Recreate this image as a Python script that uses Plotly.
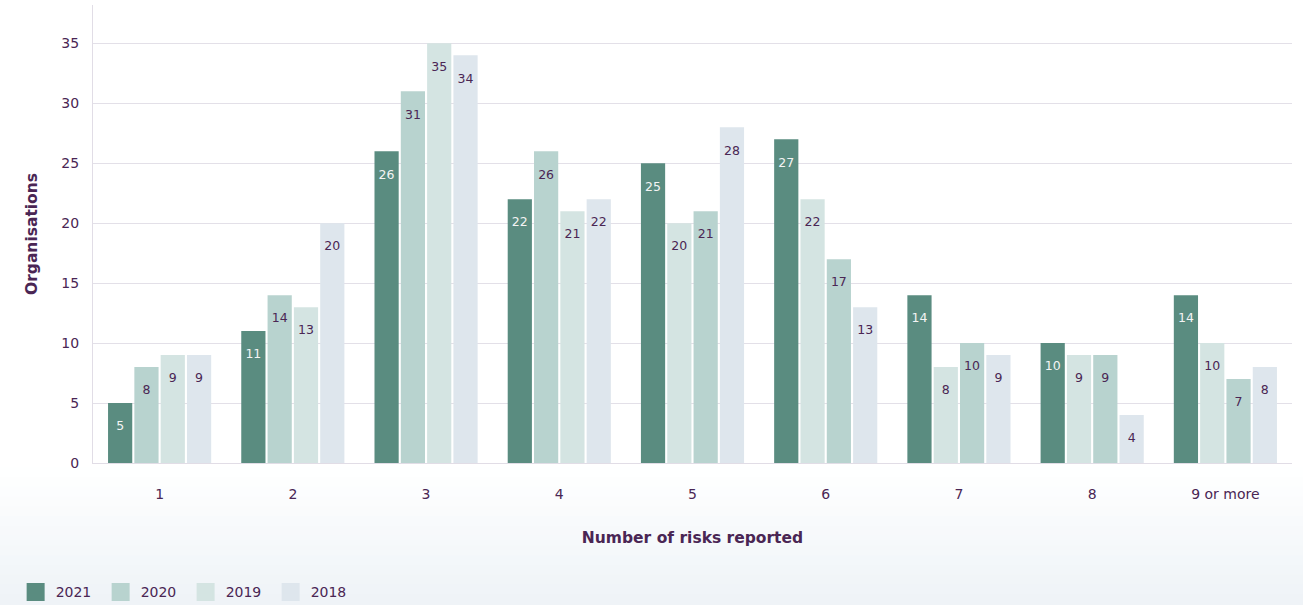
import plotly.graph_objects as go

# Organisations by number of risks reported, per survey year
categories = ["1", "2", "3", "4", "5", "6", "7", "8", "9 or more"]
years = ["2021", "2020", "2019", "2018"]
v2021 = [5, 11, 26, 22, 25, 27, 14, 10, 14]
v2020 = [8, 14, 31, 26, 20, 22, 8, 9, 10]
v2019 = [9, 13, 35, 21, 21, 17, 10, 9, 7]
v2018 = [9, 20, 34, 22, 28, 13, 9, 4, 8]

C2021 = "#5a8c80"
C2020 = "#b8d3cf"
C2019 = "#d4e4e2"
C2018 = "#dee6ed"
PURPLE = "#4a2654"
FONT = "Tahoma, Verdana, DejaVu Sans, sans-serif"

# the two middle series swap shades from category "5" onward
col_second = [C2020] * 4 + [C2019] * 5
col_third = [C2019] * 4 + [C2020] * 5

series = [
    ("2021", v2021, C2021, "#f4f4f4"),
    ("2020", v2020, col_second, PURPLE),
    ("2019", v2019, col_third, PURPLE),
    ("2018", v2018, C2018, PURPLE),
]
legend_colors = [C2021, C2020, C2019, C2018]

# small blank line above each value keeps labels a little below the bar top
SPACER = "<span style='font-size:9px'>\u00a0</span><br>"

fig = go.Figure()
for name, vals, color, tcolor in series:
    fig.add_trace(go.Bar(
        name=name,
        x=categories,
        y=vals,
        marker=dict(color=color, line=dict(width=0)),
        text=[SPACER + str(v) for v in vals],
        texttemplate="%{text}",
        textposition="inside",
        insidetextanchor="end",
        textangle=0,
        constraintext="none",
        insidetextfont=dict(family=FONT, size=12.5, color=tcolor),
        hoverinfo="x+y+name",
        showlegend=False,
        legendgroup=name,
    ))

# legend keys: larger square swatches
for name, color in zip(years, legend_colors):
    fig.add_trace(go.Scatter(
        name=name, x=[None], y=[None], mode="markers",
        marker=dict(symbol="square", size=16, color=color,
                    line=dict(color=color, width=2)),
        legendgroup=name, showlegend=True, hoverinfo="skip",
    ))

# soft fade below the plot area
shapes = []
n = 14
top_px, bot_px, plot_h, base_px = 468, 605, 458, 463
for i in range(n):
    y0 = top_px + (bot_px - top_px) * i / n
    y1 = top_px + (bot_px - top_px) * (i + 1) / n
    t = (i + 0.5) / n
    r = round(255 + (238 - 255) * t)
    g = round(255 + (243 - 255) * t)
    b = round(255 + (247 - 255) * t)
    shapes.append(dict(
        type="rect", xref="paper", yref="paper", layer="below",
        x0=-0.1, x1=1.02,
        y0=(base_px - y1) / plot_h, y1=(base_px - y0) / plot_h + 0.002,
        fillcolor=f"rgb({r},{g},{b})", line=dict(width=0),
    ))

fig.update_layout(
    width=1303, height=605,
    margin=dict(l=93, r=11, t=5, b=142),
    paper_bgcolor="white",
    plot_bgcolor="white",
    barmode="group",
    bargap=0.21,
    bargroupgap=0.08,
    font=dict(family=FONT, size=14, color=PURPLE),
    shapes=shapes,
    showlegend=True,
    legend=dict(
        orientation="h",
        xref="container", yref="container",
        x=0.012, y=0.021, xanchor="left", yanchor="middle",
        font=dict(family=FONT, size=14, color=PURPLE),
        entrywidth=40,
        bgcolor="rgba(0,0,0,0)",
        traceorder="normal",
        itemsizing="trace",
    ),
    xaxis=dict(
        title=dict(text="<b>Number of risks reported</b>",
                   font=dict(family=FONT, size=15.5, color=PURPLE), standoff=31),
        showline=True, linecolor="#e1dde6", linewidth=1,
        ticks="outside", ticklen=18, tickcolor="rgba(0,0,0,0)",
        tickfont=dict(family=FONT, size=14, color=PURPLE),
        showgrid=False,
    ),
    yaxis=dict(
        title=dict(text="<b>Organisations</b>",
                   font=dict(family=FONT, size=15.5, color=PURPLE), standoff=19),
        range=[0, 38.2],
        tickvals=[0, 5, 10, 15, 20, 25, 30, 35],
        showgrid=True, gridcolor="#e3e0e8", gridwidth=1,
        showline=True, linecolor="#e1dde6", linewidth=1,
        zeroline=False,
        ticks="outside", ticklen=10, tickcolor="rgba(0,0,0,0)",
        tickfont=dict(family=FONT, size=14, color=PURPLE),
    ),
)

fig.write_html("out.html")
